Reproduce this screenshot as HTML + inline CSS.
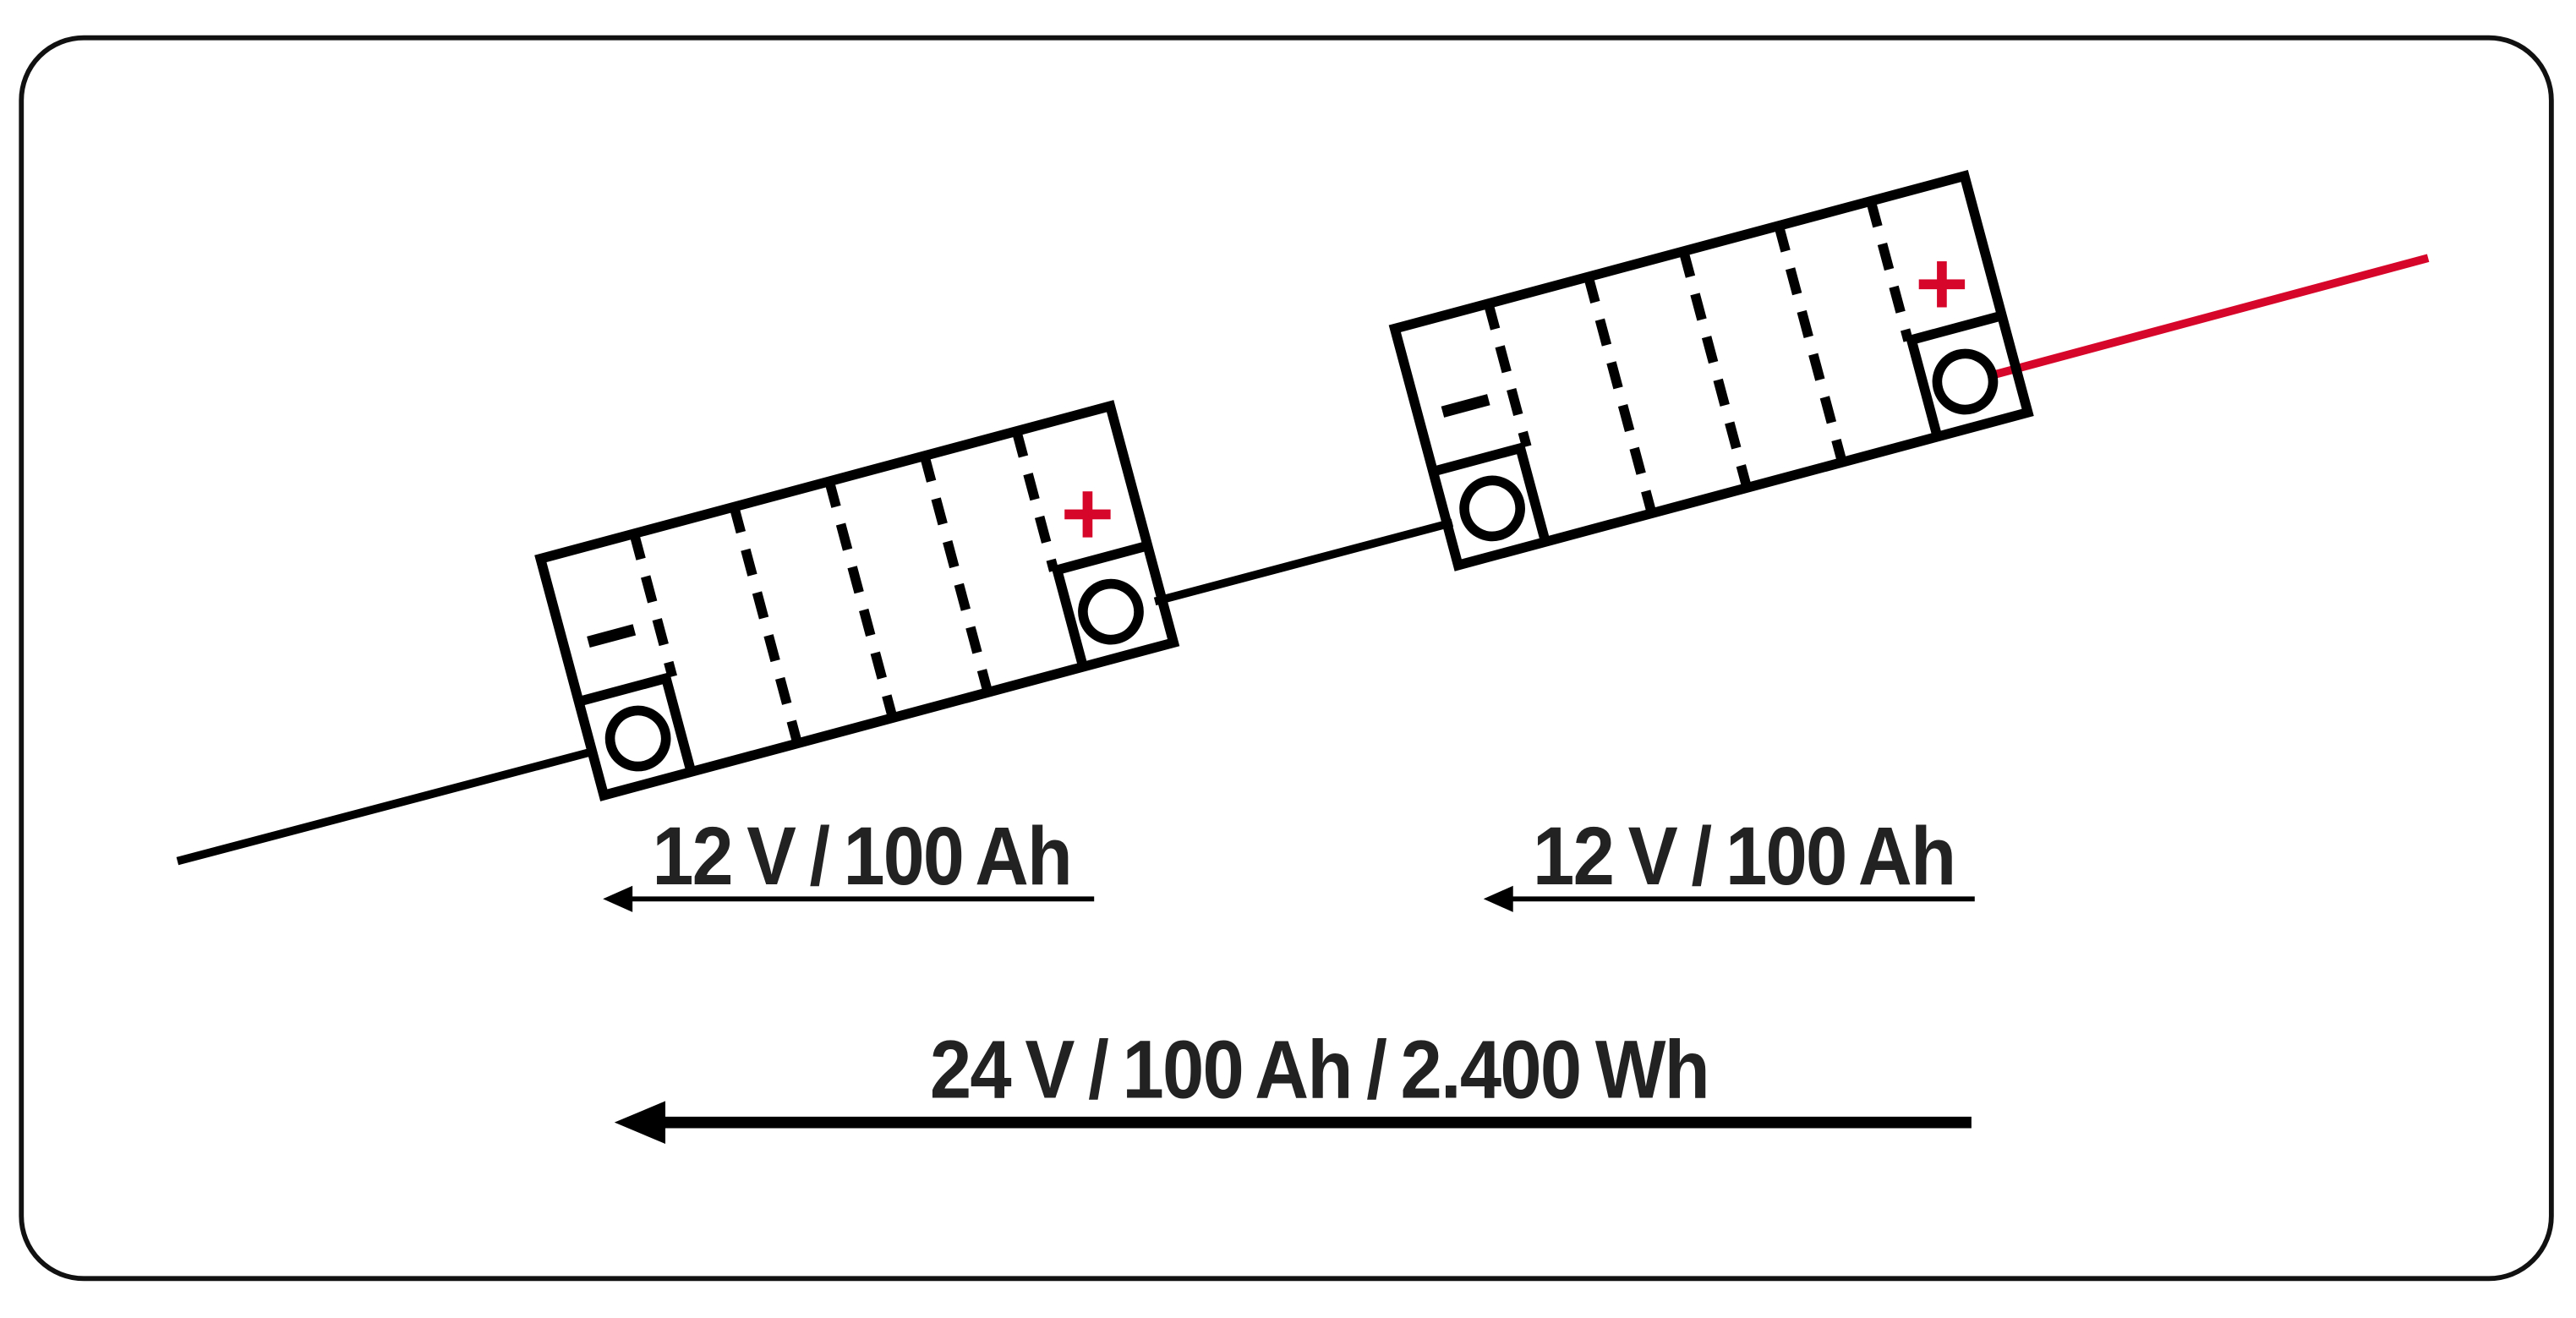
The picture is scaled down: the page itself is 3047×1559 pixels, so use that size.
<!DOCTYPE html>
<html><head><meta charset="utf-8"><style>
html,body{margin:0;padding:0;background:#fff;}
svg{display:block;}
</style></head><body>
<svg width="3047" height="1559" viewBox="0 0 1568 802" preserveAspectRatio="none" xmlns="http://www.w3.org/2000/svg">
<defs>
<g id="bat">
  <g fill="none" stroke="#000" stroke-width="6">
    <rect x="0" y="0" width="359" height="149"/>
    <polyline points="0,90 55,90 55,149"/>
    <polyline points="359,88 302,88 302,149"/>
    <circle cx="29" cy="121" r="17"/>
    <circle cx="327" cy="121" r="17"/>
    <line x1="59" y1="0" x2="59" y2="90" stroke-dasharray="16,11"/>
    <line x1="122" y1="0" x2="122" y2="149" stroke-dasharray="16,11"/>
    <line x1="182" y1="0" x2="182" y2="149" stroke-dasharray="16,11"/>
    <line x1="242" y1="0" x2="242" y2="149" stroke-dasharray="16,11"/>
    <line x1="300" y1="0" x2="300" y2="88" stroke-dasharray="16,11"/>
  </g>
  <rect x="15" y="53" width="29" height="7" fill="#000"/>
</g>
<g id="plus">
  <rect x="-14" y="-3" width="28" height="6" fill="#d6062a"/>
  <rect x="-3" y="-14" width="6" height="28" fill="#d6062a"/>
</g>
</defs>
<rect x="13" y="23" width="1540" height="755" rx="38" ry="38" fill="#fff" stroke="#111" stroke-width="3"/>
<line x1="108" y1="524" x2="362" y2="457" stroke="#000" stroke-width="5"/>
<line x1="703" y1="366" x2="884" y2="318" stroke="#000" stroke-width="5"/>
<line x1="1210" y1="229" x2="1478" y2="157" stroke="#d6062a" stroke-width="5"/>
<g transform="translate(329,340) rotate(-15)"><use href="#bat"/></g>
<g transform="translate(849,200) rotate(-15)"><use href="#bat"/></g>
<use href="#plus" transform="translate(662,313)"/>
<use href="#plus" transform="translate(1182,173)"/>
<g font-family="'Liberation Sans', sans-serif" font-weight="bold" fill="#222" font-size="50" letter-spacing="-1" word-spacing="-3">
<text x="397" y="538" textLength="255" lengthAdjust="spacingAndGlyphs">12 V / 100 Ah</text>
<text x="933" y="538" textLength="257" lengthAdjust="spacingAndGlyphs">12 V / 100 Ah</text>
<text x="566" y="668" textLength="474" lengthAdjust="spacingAndGlyphs">24 V / 100 Ah / 2.400 Wh</text>
</g>
<line x1="384" y1="547" x2="666" y2="547" stroke="#000" stroke-width="3"/>
<polygon points="367,547 385,539 385,555" fill="#000"/>
<line x1="920" y1="547" x2="1202" y2="547" stroke="#000" stroke-width="3"/>
<polygon points="903,547 921,539 921,555" fill="#000"/>
<line x1="403" y1="683" x2="1200" y2="683" stroke="#000" stroke-width="7"/>
<polygon points="374,683 405,670 405,696" fill="#000"/>
</svg>
</body></html>
